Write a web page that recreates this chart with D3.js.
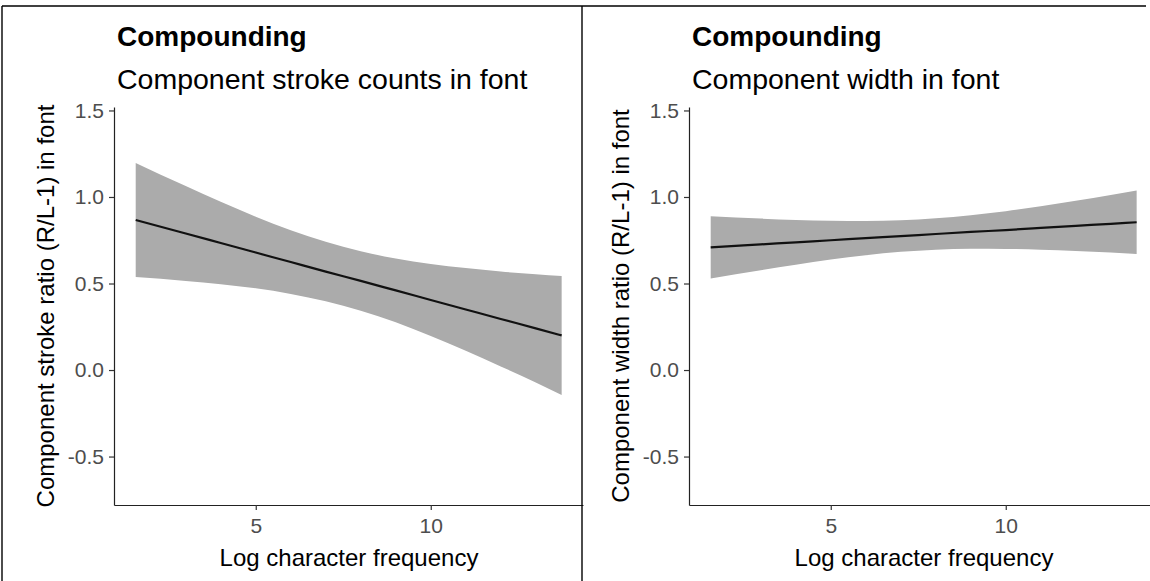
<!DOCTYPE html>
<html>
<head>
<meta charset="utf-8">
<script src="https://cdn.jsdelivr.net/npm/d3@7"></script>
<style>
  html, body { margin: 0; padding: 0; background: #fff; }
  svg { display: block; }
  text { font-family: "Liberation Sans", Arial, sans-serif; }
</style>
</head>
<body>
<svg id="chart" width="1150" height="581"></svg>
<script>
// ---- data ----
const titles = ["Compounding", "Compounding"];
const subtitles = ["Component stroke counts in font", "Component width in font"];
const yTitles = ["Component stroke ratio (R/L-1) in font", "Component width ratio (R/L-1) in font"];
const xTitle = "Log character frequency";
const xTicks = [5, 10];
const yTicks = [-0.5, 0, 0.5, 1.0, 1.5];

const freq = [1.57, 3, 4, 5, 6, 7, 8, 9, 10, 11, 12, 13, 13.74];

// panel 1: stroke ratio
const strokeFit   = [0.867, 0.789, 0.734, 0.679, 0.624, 0.569, 0.515, 0.460, 0.405, 0.350, 0.295, 0.241, 0.200];
const strokeUpper = [1.197, 1.063, 0.972, 0.886, 0.808, 0.741, 0.687, 0.644, 0.613, 0.589, 0.569, 0.554, 0.544];
const strokeLower = [0.537, 0.515, 0.496, 0.472, 0.440, 0.397, 0.343, 0.276, 0.197, 0.111, 0.021, -0.072, -0.144];

// panel 2: width ratio
const widthFit   = [0.709, 0.726, 0.738, 0.750, 0.762, 0.774, 0.786, 0.798, 0.809, 0.821, 0.833, 0.845, 0.854];
const widthUpper = [0.889, 0.875, 0.867, 0.862, 0.861, 0.865, 0.877, 0.895, 0.918, 0.947, 0.978, 1.011, 1.037];
const widthLower = [0.529, 0.577, 0.609, 0.638, 0.663, 0.683, 0.695, 0.701, 0.700, 0.695, 0.688, 0.679, 0.671];

const xDomain = [0.95, 14.35];
const yDomain = [-0.78, 1.52];

// ---- drawing ----
const svg = d3.select("#chart");
const panels = [
  { ox: 0,   fit: strokeFit, up: strokeUpper, lo: strokeLower },
  { ox: 575, fit: widthFit,  up: widthUpper,  lo: widthLower }
];

panels.forEach((p, i) => {
  const g = svg.append("g");
  const x = d3.scaleLinear().domain(xDomain).range([p.ox + 114, p.ox + 583]);
  const y = d3.scaleLinear().domain(yDomain).range([505, 107]);

  const rows = freq.map((f, k) => ({ f, fit: p.fit[k], up: p.up[k], lo: p.lo[k] }));

  g.append("path")
    .datum(rows)
    .attr("fill", "#ababab")
    .attr("d", d3.area().curve(d3.curveMonotoneX)
      .x(d => x(d.f)).y0(d => y(d.lo)).y1(d => y(d.up)));

  g.append("path")
    .datum(rows)
    .attr("fill", "none")
    .attr("stroke", "#111")
    .attr("stroke-width", 2.2)
    .attr("d", d3.line().curve(d3.curveMonotoneX).x(d => x(d.f)).y(d => y(d.fit)));

  const yAxis = g.append("g")
    .attr("transform", `translate(${p.ox + 114},0)`)
    .call(d3.axisLeft(y).tickValues(yTicks).tickFormat(d => d.toFixed(1)).tickSize(5).tickSizeOuter(0).tickPadding(5));
  const xAxis = g.append("g")
    .attr("transform", `translate(0,505)`)
    .call(d3.axisBottom(x).tickValues(xTicks).tickFormat(d3.format("d")).tickSize(5).tickSizeOuter(0).tickPadding(8));

  [yAxis, xAxis].forEach(a => {
    a.select(".domain").attr("stroke", "#222").attr("stroke-width", 1.2);
    a.selectAll(".tick line").attr("stroke", "#333").attr("stroke-width", 1.2);
    a.selectAll(".tick text").attr("fill", "#4d4d4d").style("font-size", "21px")
      .style("font-family", '"Liberation Sans", Arial, sans-serif');
  });

  g.append("text")
    .attr("x", p.ox + 117).attr("y", 46)
    .style("font-size", "28px").style("font-weight", "bold").attr("fill", "#000")
    .text(titles[i]);
  g.append("text")
    .attr("x", p.ox + 117).attr("y", 89)
    .style("font-size", "28.5px").attr("fill", "#000")
    .text(subtitles[i]);

  g.append("text")
    .attr("transform", `translate(${p.ox + 54},306) rotate(-90)`)
    .attr("text-anchor", "middle")
    .style("font-size", "24px").attr("fill", "#000")
    .text(yTitles[i]);

  g.append("text")
    .attr("x", p.ox + 349).attr("y", 566)
    .attr("text-anchor", "middle")
    .style("font-size", "24px").attr("fill", "#000")
    .text(xTitle);
});

// frame lines around the two panels
const frame = svg.append("g").attr("stroke", "#000").attr("stroke-width", 1.4);
frame.append("line").attr("x1", 2).attr("x2", 2).attr("y1", 6).attr("y2", 581);
frame.append("line").attr("x1", 2).attr("x2", 1146).attr("y1", 6).attr("y2", 6);
frame.append("line").attr("x1", 582).attr("x2", 582).attr("y1", 6).attr("y2", 581);
</script>
</body>
</html>
